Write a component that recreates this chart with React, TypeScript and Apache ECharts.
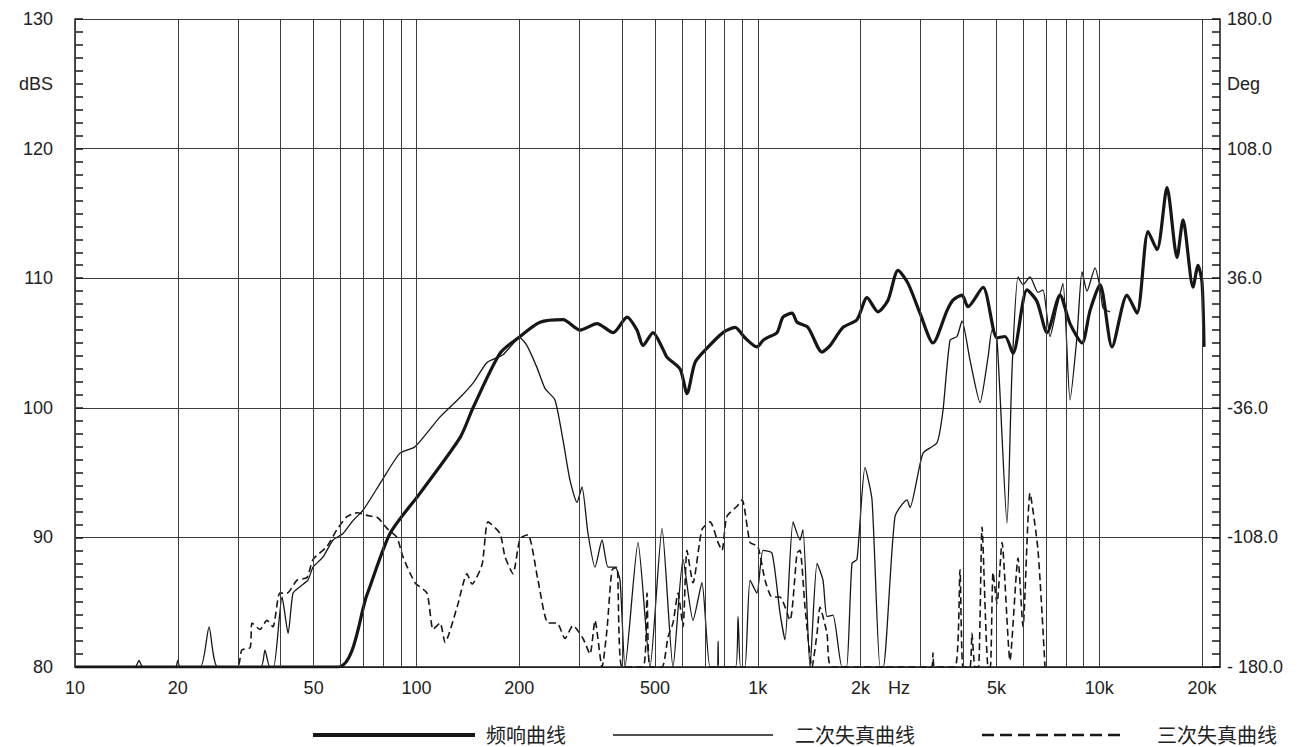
import React, { useEffect, useRef } from 'react';
import * as echarts from 'echarts';

// ---- axis ticks / labels ----
const X_GRID = [10, 20, 30, 40, 50, 60, 70, 80, 90, 100, 200, 300, 400, 500, 600, 700, 800, 900, 1000, 2000, 3000, 4000, 5000, 6000, 7000, 8000, 9000, 10000, 20000];
const X_LABEL_VALUES = [10, 20, 50, 100, 200, 500, 1000, 2000, 5000, 10000, 20000];
const X_LABEL_TEXT = ['10', '20', '50', '100', '200', '500', '1k', '2k', '5k', '10k', '20k'];
const LEFT_RANGE = [80, 130];
const RIGHT_LABELS = ['- 180.0', '-108.0', '-36.0', '36.0', '108.0', '180.0'];

// ---- frequency response (thick) ----
const FR_FREQ = [10, 58.9, 71.7, 83.7, 102.4, 134.2, 146.5, 175.7, 201.1, 230.1, 268.8, 301.5, 338.1, 377, 413.9, 442.6, 461, 493.2, 528, 542, 592, 620.3, 655, 710, 791, 858, 917, 994, 1036, 1064, 1138, 1185, 1260, 1303, 1403, 1542, 1627, 1776, 1952, 2089, 2249, 2406, 2574, 2754, 2985, 3259, 3582, 3730, 3963, 4126, 4567, 5019, 5297, 5590, 6143, 6572, 7031, 7674, 8211, 8904, 9397, 10053, 10901, 12059, 12903, 13900, 14768, 15796, 16898, 17596, 18827, 19474, 20000, 20274];
const FR_DB = [80, 80, 85.6, 90.3, 93.4, 97.7, 100.0, 104.2, 105.5, 106.6, 106.8, 106.0, 106.5, 105.8, 107.0, 106.0, 104.8, 105.8, 104.5, 103.9, 103.0, 101.1, 103.5, 104.6, 105.8, 106.2, 105.4, 104.7, 105.2, 105.4, 105.8, 107.0, 107.3, 106.6, 106.2, 104.3, 104.8, 106.2, 106.8, 108.5, 107.4, 108.3, 110.6, 109.6, 107.3, 105.0, 107.5, 108.3, 108.7, 107.8, 109.3, 105.4, 105.5, 104.2, 109.1, 108.2, 105.8, 108.7, 106.5, 105.0, 107.5, 109.5, 104.7, 108.7, 107.3, 113.6, 112.2, 117.0, 111.6, 114.5, 109.3, 111.0, 109.7, 104.7];

// ---- 2nd harmonic distortion (thin) ----
const H2_FREQ = [10, 15, 15.4, 15.8, 19.7, 20.0, 20.3, 23.3, 24.7, 26.2, 35.0, 36.0, 37.2, 38.2, 40.4, 42.1, 43.5, 45.6, 48.1, 49.8, 53.3, 57.0, 61.0, 65.2, 69.8, 79.3, 89.5, 99.1, 117.3, 134.2, 146.5, 161.0, 179.3, 201.1, 210.8, 225.5, 238.0, 254.6, 268.8, 281.8, 295.4, 305.5, 318.1, 333.5, 349.7, 364.1, 381.7, 394.8, 408.3, 445.7, 483.3, 524.1, 564.4, 604, 646, 686, 724.5, 760, 765, 770, 860, 875, 890, 917, 949, 994, 1036, 1100, 1161, 1201, 1268, 1329, 1356, 1422, 1491, 1552, 1594, 1660, 1764, 1820, 1887, 1952, 2060, 2160, 2280, 2330, 2522, 2735, 2791, 3046, 3348, 3486, 3655, 3832, 3963, 4182, 4475, 4724, 4853, 5019, 5369, 5553, 5782, 5980, 6269, 6617, 6844, 7175, 7520, 7831, 8211, 8608, 8904, 9209, 9719, 10053, 10259, 10755];
const H2_DB = [80, 80, 80.5, 80, 80, 80.5, 80, 80, 83.1, 80, 80, 81.3, 80, 80, 85.4, 82.6, 85.7, 86.2, 86.7, 87.7, 88.5, 89.8, 90.3, 91.3, 92.1, 94.4, 96.5, 97.0, 99.3, 100.8, 101.9, 103.5, 104.1, 105.4, 104.8, 103.1, 101.5, 100.6, 97.5, 94.4, 92.7, 93.9, 90.3, 87.7, 89.8, 87.7, 87.7, 86.7, 80, 89.6, 80, 90.7, 80, 88.3, 83.6, 86.5, 80, 80, 82, 80, 80, 83.9, 80, 80, 86.7, 85.7, 89.0, 88.8, 84.2, 82.1, 91.2, 89.8, 90.6, 80, 88.0, 86.7, 83.9, 84.0, 80, 80, 88.0, 88.3, 95.4, 92.9, 80, 80, 91.6, 92.9, 92.3, 96.5, 97.3, 99.8, 105.2, 105.5, 106.7, 103.7, 100.4, 103.9, 106.0, 105.2, 91.1, 102.9, 110.1, 109.5, 110.1, 108.9, 109.1, 105.5, 107.8, 109.6, 100.6, 105.5, 110.5, 109.0, 110.8, 109.3, 107.7, 107.4];

// ---- 3rd harmonic distortion (dashed) ----
const H3_FREQ = [10, 29.8, 30.8, 32.6, 33.0, 34.8, 36.5, 38.0, 39.8, 41.8, 44.7, 47.8, 49.8, 54.7, 58.5, 62.6, 67.0, 71.7, 77.2, 82.0, 87.7, 91.3, 99.1, 107.4, 111.9, 117.3, 121.3, 131.5, 140.7, 145.5, 155.7, 162.1, 175.7, 181.8, 191.8, 201.1, 212.3, 227.0, 242.9, 258.1, 272.4, 287.5, 307.6, 322.5, 333.5, 349.7, 361.6, 374.1, 386.9, 400.2, 461, 473.6, 483.3, 524, 545.7, 564.4, 583.8, 603.8, 620, 646, 686, 724.5, 765, 785.6, 811, 869, 900, 949, 1000, 1050, 1100, 1161, 1242, 1303, 1329, 1375, 1441, 1491, 1521, 1594, 1649, 3230, 3259, 3290, 3780, 3910, 3990, 4180, 4239, 4326, 4430, 4536, 4724, 4800, 4886, 5019, 5191, 5478, 5782, 5980, 6269, 6617, 6937];
const H3_DB = [80, 80, 81.3, 81.5, 83.4, 82.9, 83.6, 83.1, 85.7, 85.7, 86.7, 86.9, 88.3, 89.3, 90.6, 91.6, 91.9, 91.7, 91.5, 90.7, 90.0, 88.5, 86.5, 85.7, 82.9, 83.4, 81.9, 84.6, 87.2, 86.4, 87.9, 91.2, 90.3, 88.5, 87.2, 89.9, 90.2, 86.7, 83.4, 83.4, 82.2, 83.2, 82.2, 81.0, 83.6, 80, 82.9, 87.5, 87.7, 80, 80, 85.7, 80, 80, 82.3, 83.4, 85.7, 83.1, 89.0, 86.5, 90.6, 91.2, 89.6, 89.0, 91.6, 92.4, 92.9, 89.6, 89.3, 86.7, 85.4, 85.4, 83.6, 88.8, 89.0, 84.6, 80, 82.6, 84.6, 82.6, 80, 80, 81.1, 80, 80, 87.5, 80, 80, 82.6, 80, 80, 90.8, 80, 80, 87.3, 84.9, 89.6, 80.5, 88.4, 83.1, 93.4, 89.0, 80];

const FONT = 'Liberation Sans, Arial, sans-serif';
const CJK = 'Noto Sans CJK SC, sans-serif';
const INK = '#161616';
const TXT = '#222';
const GRIDC = '#3c3c3c';

function pairs(f: number[], v: number[]) {
  return f.map((x, i) => [x, v[i]]);
}

export default function App() {
  const ref = useRef<HTMLDivElement>(null);

  useEffect(() => {
    if (!ref.current) return;
    const chart = echarts.init(ref.current, undefined, { renderer: 'svg' });

    const gridLines = X_GRID.map((f) => {
      const idx = X_LABEL_VALUES.indexOf(f);
      return {
        xAxis: f,
        label: idx >= 0 ? { show: true, formatter: X_LABEL_TEXT[idx] } : { show: false },
      };
    });

    const option: any = {
      animation: false,
      backgroundColor: '#ffffff',
      grid: { left: 75, right: 78, top: 19, bottom: 80, containLabel: false },
      xAxis: {
        type: 'log',
        logBase: 10,
        min: 10,
        max: 22580,
        axisLine: { show: true, onZero: false, lineStyle: { color: INK, width: 1.5 } },
        axisTick: { show: false },
        axisLabel: { show: false },
        splitLine: { show: false },
        minorSplitLine: { show: false },
      },
      yAxis: [
        {
          type: 'value',
          position: 'left',
          min: LEFT_RANGE[0],
          max: LEFT_RANGE[1],
          interval: 10,
          name: 'dBS',
          nameLocation: 'end',
          nameGap: -65,
          nameTextStyle: { fontSize: 18, fontFamily: FONT, color: TXT, align: 'right', verticalAlign: 'middle', padding: [0, 22, 0, 0] },
          axisLine: { show: true, lineStyle: { color: INK, width: 1.5 } },
          axisTick: { show: true, inside: true, length: 8, lineStyle: { color: INK, width: 1.5 } },
          minorTick: { show: true, splitNumber: 10, length: 8, lineStyle: { color: INK, width: 1.5 } },
          axisLabel: {
            show: true,
            margin: 22,
            fontSize: 18,
            fontFamily: FONT,
            color: TXT,
          },
          splitLine: { show: true, lineStyle: { color: GRIDC, width: 1 } },
        },
        {
          type: 'value',
          position: 'right',
          min: 0,
          max: 360,
          interval: 72,
          name: 'Deg',
          nameLocation: 'end',
          nameGap: -65,
          nameTextStyle: { fontSize: 18, fontFamily: FONT, color: TXT, align: 'left', verticalAlign: 'middle', padding: [0, 0, 0, 7] },
          axisLine: { show: true, lineStyle: { color: INK, width: 1.5 } },
          axisTick: { show: true, inside: true, length: 8, lineStyle: { color: INK, width: 1.5 } },
          minorTick: { show: true, splitNumber: 10, length: 8, lineStyle: { color: INK, width: 1.5 } },
          axisLabel: {
            show: true,
            formatter: (v: number) => RIGHT_LABELS[Math.round(v / 72)] ?? '',
            margin: 7,
            fontSize: 18,
            fontFamily: FONT,
            color: TXT,
          },
          splitLine: { show: false },
        },
      ],
      series: [
        {
          name: '三次失真曲线',
          type: 'line',
          data: pairs(H3_FREQ, H3_DB),
          showSymbol: false,
          symbol: 'none',
          smooth: 0.2,
          lineStyle: { color: INK, width: 1.6, type: [7, 4] },
          markLine: {
            silent: true,
            symbol: ['none', 'none'],
            lineStyle: { color: GRIDC, width: 1, type: 'solid' },
            label: {
              position: 'start',
              distance: 12,
              fontSize: 18,
              fontFamily: FONT,
              color: TXT,
            },
            emphasis: { disabled: true },
            data: gridLines,
          },
        },
        {
          name: '二次失真曲线',
          type: 'line',
          data: pairs(H2_FREQ, H2_DB),
          showSymbol: false,
          symbol: 'none',
          smooth: 0.2,
          lineStyle: { color: INK, width: 1.3 },
        },
        {
          name: '频响曲线',
          type: 'line',
          data: pairs(FR_FREQ, FR_DB),
          showSymbol: false,
          symbol: 'none',
          smooth: 0.25,
          lineStyle: { color: INK, width: 3.2 },
        },
      ],
      graphic: [
        { type: 'text', x: 899, y: 688, style: { text: 'Hz', fontSize: 18, fontFamily: FONT, fill: TXT, align: 'center', verticalAlign: 'middle' } },
        { type: 'line', shape: { x1: 313, y1: 735, x2: 475, y2: 735 }, style: { stroke: INK, lineWidth: 4 } },
        { type: 'text', x: 486, y: 734, style: { text: '频响曲线', fontSize: 20, fontFamily: CJK, fill: TXT, align: 'left', verticalAlign: 'middle' } },
        { type: 'line', shape: { x1: 613, y1: 735, x2: 773, y2: 735 }, style: { stroke: INK, lineWidth: 1.3 } },
        { type: 'text', x: 795, y: 734, style: { text: '二次失真曲线', fontSize: 20, fontFamily: CJK, fill: TXT, align: 'left', verticalAlign: 'middle' } },
        { type: 'line', shape: { x1: 982, y1: 735, x2: 1125, y2: 735 }, style: { stroke: INK, lineWidth: 2.5, lineDash: [12, 6] } },
        { type: 'text', x: 1157, y: 734, style: { text: '三次失真曲线', fontSize: 20, fontFamily: CJK, fill: TXT, align: 'left', verticalAlign: 'middle' } },
      ],
    };

    chart.setOption(option);
    return () => chart.dispose();
  }, []);

  return (
    <div
      ref={ref}
      style={{ position: 'fixed', left: 0, top: 0, width: 1298, height: 747, background: '#fff' }}
    />
  );
}
